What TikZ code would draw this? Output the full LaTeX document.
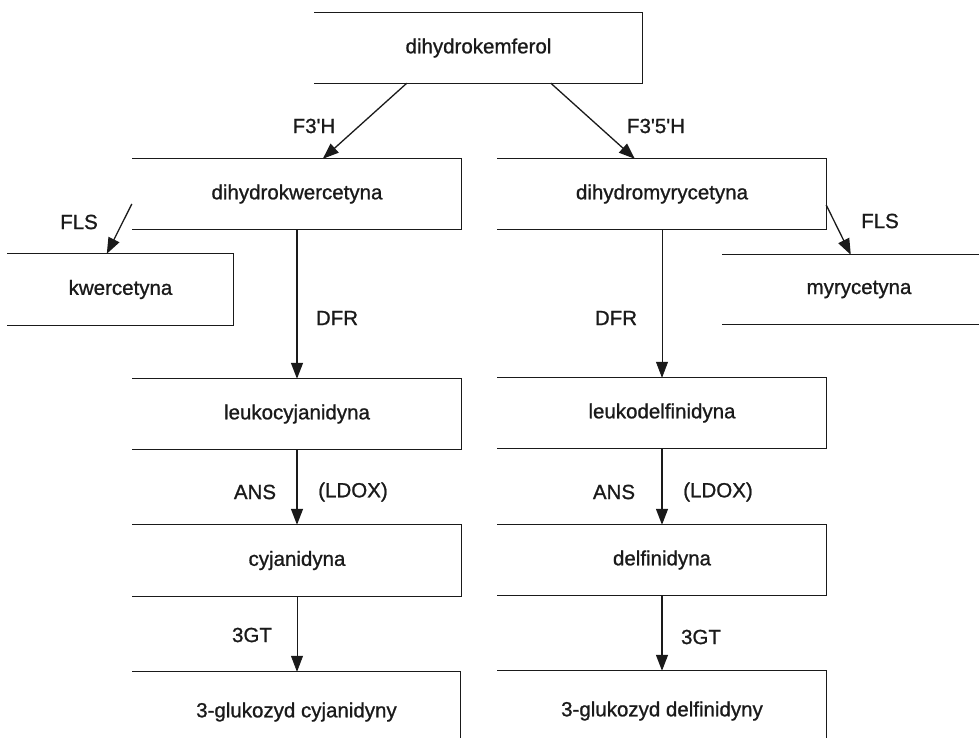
\documentclass[tikz,border=0pt]{standalone}
\usepackage{fontspec}
\newfontfamily\arialike{Liberation Sans}[FakeBold=1]
\usetikzlibrary{arrows.meta}
\definecolor{ink}{HTML}{1A1A1A}
\tikzset{
  box/.style={rectangle, inner sep=0pt, minimum height=70pt, font=\arialike\fontsize{20.5}{24}\selectfont, text=ink},
  lbl/.style={inner sep=0pt, font=\arialike\fontsize{20.5}{24}\selectfont, text=ink},
  edge/.style={draw=ink, line width=1.3pt},
  thinedge/.style={draw=ink, line width=0.7pt},
  arr/.style={edge, -{Triangle[length=16pt,width=12pt]}},
  thinarr/.style={thinedge, -{Triangle[length=16pt,width=12pt]}},
}
\begin{document}
\begin{tikzpicture}[x=1pt,y=-1pt]
\useasboundingbox (0,0) rectangle (979,738);
\begin{scope}
\clip (0,0) rectangle (979,738);
% nodes
\node[box, minimum width=327pt] (top) at (478.5,48) {dihydrokemferol};
\node[box, minimum width=328pt] (dk) at (297,194) {dihydrokwercetyna};
\node[box, minimum width=328pt] (dm) at (662,194) {dihydromyrycetyna};
\node[box, minimum width=225pt, minimum height=71pt] (kw) at (120.5,289.5) {kwercetyna};
\node[box, minimum width=272pt, minimum height=69pt] (my) at (859,289.5) {myrycetyna};
\node[box, minimum width=328pt] (lc) at (297,414) {leukocyjanidyna};
\node[box, minimum width=328pt] (ld) at (662,413) {leukodelfinidyna};
\node[box, minimum width=328pt, minimum height=71pt] (cy) at (297,560.5) {cyjanidyna};
\node[box, minimum width=328pt] (df) at (662,560) {delfinidyna};
\node[box, minimum width=327pt, minimum height=80pt] (gc) at (296.5,712) {3-glukozyd cyjanidyny};
\node[box, minimum width=328pt, minimum height=80pt] (gd) at (662,711) {3-glukozyd delfinidyny};
% open boxes
\foreach \n in {top,dk,dm,kw,lc,ld,cy,df}{
  \draw[edge, line cap=rect] (\n.north west) -- (\n.north east) -- (\n.south east) -- (\n.south west);
}
\draw[edge, line cap=rect] (my.north west) -- (my.north east);
\draw[edge, line cap=rect] (my.south west) -- (my.south east);
\foreach \n in {gc,gd}{
  \draw[edge, line cap=rect] (\n.north west) -- (\n.north east) -- (\n.south east);
}
% connectors
\draw[arr] ([xshift=92pt]top.south west) -- ([xshift=190pt]dk.north west);
\draw[arr] ([xshift=236pt]top.south west) -- ([xshift=137pt]dm.north west);
\draw[arr] ([xshift=-1pt,yshift=-10pt]dk.west) -- ([xshift=99pt]kw.north west);
\draw[arr] ([yshift=-11pt]dm.east) -- ([xshift=128pt]my.north west);
\draw[arr] (dk.south) -- (lc.north);
\draw[thinarr] (dm.south) -- (ld.north);
\draw[arr] (lc.south) -- (cy.north);
\draw[arr] (ld.south) -- (df.north);
\draw[thinarr] (cy.south) -- (gc.north -| cy.south);
\draw[arr] (df.south) -- (gd.north);
% labels
\node[lbl] (l1) at (314,126) {F3'H};
\node[lbl] (l2) at (656,126) {F3'5'H};
\node[lbl] (l3) at (79,222) {FLS};
\node[lbl] (l4) at (880,221) {FLS};
\node[lbl] (l5) at (337,318) {DFR};
\node[lbl] (l6) at (616,318) {DFR};
\node[lbl] (l7) at (255,492) {ANS};
\node[lbl] (l8) at (353,492) {(LDOX)};
\node[lbl] (l9) at (614,492) {ANS};
\node[lbl] (l10) at (718,492) {(LDOX)};
\node[lbl] (l11) at (252,635) {3GT};
\node[lbl] (l12) at (701,637) {3GT};
\end{scope}
\end{tikzpicture}
\end{document}
